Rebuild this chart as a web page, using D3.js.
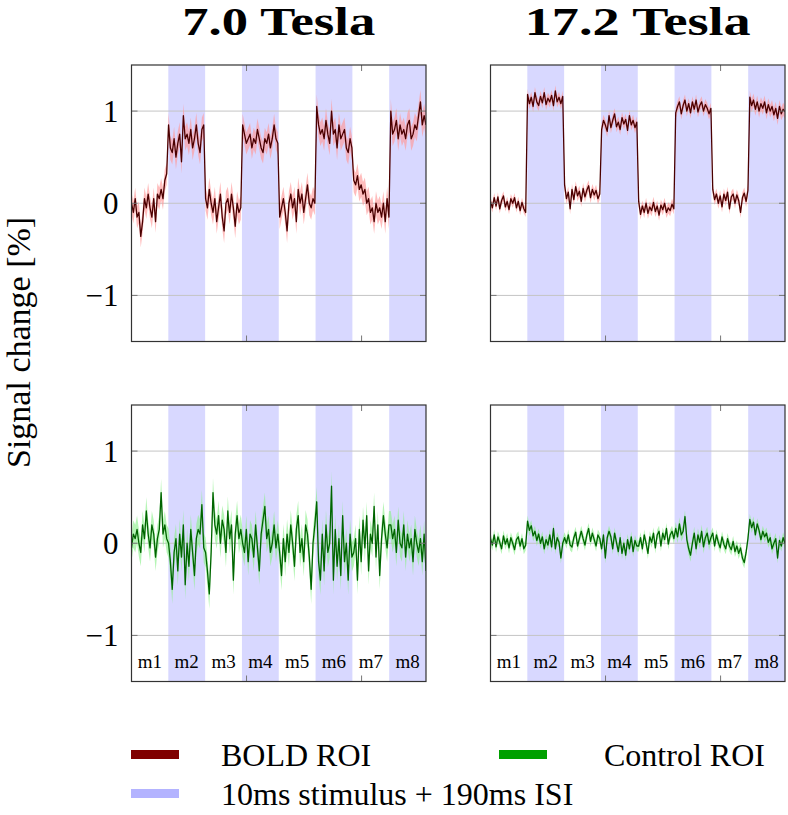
<!DOCTYPE html>
<html>
<head>
<meta charset="utf-8">
<script src="https://cdn.jsdelivr.net/npm/d3@7"></script>
<style>
  html, body { margin: 0; padding: 0; background: #fff; }
</style>
</head>
<body>
<svg id="chart" width="788" height="815" font-family="Liberation Serif"></svg>
<script>
// fMRI block-design time courses: BOLD vs control ROI at 7.0 T and 17.2 T.
// Values, 20 samples per 16 s block.

const FONT = "Liberation Serif";
const TITLES = ["7.0 Tesla", "17.2 Tesla"];
const BLOCK_LABELS = ["m1", "m2", "m3", "m4", "m5", "m6", "m7", "m8"];
const STIM_BLOCKS = [1, 3, 5, 7];          // shaded (stimulus) blocks
const BLOCK_LEN = 16;                      // seconds per block
const TOTAL_TIME = 128;
const X_TICKS = [50, 100];
const Y_TICKS = [-1, 0, 1];
const Y_DOMAIN = [-1.5, 1.5];

// BOLD ROI, 7.0 T
const bold7 = [
  0.00, -0.10, 0.05, -0.15, -0.10, -0.36, -0.20, 0.05, -0.05, 0.10, -0.05, -0.15, 0.05, -0.20, 0.10, 0.05, 0.15, 0.05, 0.25, 0.32,
  0.85, 0.60, 0.55, 0.70, 0.50, 0.65, 0.75, 0.45, 0.95, 0.70, 0.75, 0.65, 0.80, 0.60, 0.70, 0.85, 0.65, 0.55, 0.80, 0.85,
  0.05, -0.05, 0.15, 0.00, -0.10, 0.05, -0.20, -0.05, 0.10, -0.15, -0.30, 0.00, 0.05, -0.10, 0.10, -0.05, -0.25, 0.00, -0.10, -0.05,
  0.85, 0.75, 0.65, 0.70, 0.75, 0.60, 0.70, 0.65, 0.80, 0.70, 0.60, 0.55, 0.70, 0.65, 0.75, 0.60, 0.70, 0.85, 0.70, 0.65,
  -0.15, -0.05, 0.05, -0.10, -0.30, 0.00, 0.10, -0.05, 0.05, -0.20, 0.15, 0.00, 0.10, -0.10, 0.05, 0.20, 0.00, -0.05, 0.05, 0.00,
  1.05, 0.85, 0.75, 0.80, 0.70, 0.90, 0.75, 0.65, 1.00, 0.75, 0.80, 0.60, 0.85, 0.70, 0.75, 0.80, 0.60, 0.55, 0.70, 0.60,
  0.25, 0.20, 0.30, 0.15, 0.20, 0.10, 0.15, 0.00, 0.05, -0.10, -0.05, -0.20, 0.00, -0.10, -0.05, -0.15, 0.00, -0.20, 0.05, -0.15,
  1.00, 0.75, 0.80, 0.90, 0.70, 0.85, 0.75, 0.80, 0.70, 0.85, 0.90, 0.70, 0.75, 0.85, 0.80, 0.95, 1.10, 0.85, 0.95, 0.85
];

// BOLD ROI, 17.2 T
const bold17 = [
  0.02, -0.05, 0.06, -0.03, 0.07, -0.06, 0.03, 0.08, -0.04, 0.02, -0.07, 0.05, 0.00, 0.06, -0.05, 0.02, -0.08, 0.01, -0.06, -0.10,
  1.18, 1.08, 1.15, 1.05, 1.20, 1.10, 1.06, 1.16, 1.09, 1.20, 1.07, 1.14, 1.10, 1.17, 1.06, 1.22, 1.10, 1.15, 1.08, 1.16,
  0.20, 0.05, 0.12, -0.06, 0.15, 0.04, 0.18, 0.08, 0.13, 0.02, 0.16, 0.07, 0.14, 0.19, 0.06, 0.15, 0.09, 0.14, 0.05, 0.10,
  0.80, 0.90, 0.85, 0.78, 0.95, 0.82, 0.90, 0.97, 0.83, 0.88, 0.80, 0.93, 0.86, 0.91, 0.79, 0.95, 0.85, 0.90, 0.82, 0.88,
  0.02, -0.12, -0.03, -0.10, 0.00, -0.11, -0.04, -0.08, 0.01, -0.09, -0.03, -0.13, -0.02, -0.07, 0.00, -0.10, -0.05, -0.08, -0.01, -0.06,
  0.98, 1.05, 1.10, 0.97, 1.06, 1.12, 1.00, 1.08, 0.98, 1.10, 1.02, 1.12, 0.99, 1.06, 1.10, 1.00, 1.07, 1.03, 0.97, 1.03,
  0.15, 0.04, 0.10, 0.00, 0.08, -0.04, 0.10, 0.03, 0.12, -0.06, 0.07, 0.10, 0.00, 0.09, 0.03, -0.10, 0.06, 0.11, 0.02, 0.14,
  1.15, 1.06, 1.12, 1.02, 1.10, 1.00, 1.08, 1.03, 1.10, 0.98, 1.07, 1.00, 1.05, 0.96, 1.03, 0.92, 1.05, 0.97, 1.02, 0.99
];

// Control ROI, 7.0 T
const ctrl7 = [
  -0.05, 0.10, 0.05, 0.15, 0.00, -0.10, 0.20, 0.05, 0.35, 0.10, -0.05, 0.20, 0.10, -0.15, 0.05, 0.15, 0.55, 0.10, 0.20, 0.05,
  0.00, -0.20, -0.50, -0.10, 0.05, -0.30, 0.10, -0.15, 0.20, -0.45, 0.00, -0.25, 0.15, -0.10, -0.35, 0.05, 0.15, 0.10, 0.42, -0.05,
  -0.10, -0.30, -0.55, -0.10, 0.55, 0.20, 0.10, 0.30, 0.00, 0.25, 0.15, -0.10, 0.35, 0.05, 0.20, -0.40, 0.10, 0.30, 0.05, 0.15,
  0.00, -0.10, 0.15, -0.20, 0.10, 0.05, -0.15, 0.20, -0.05, -0.30, 0.10, 0.25, 0.40, 0.05, 0.15, -0.10, 0.00, 0.20, -0.05, 0.10,
  -0.10, -0.35, 0.05, -0.20, 0.10, -0.10, 0.20, 0.00, -0.25, 0.15, 0.30, -0.10, 0.05, -0.20, 0.20, 0.10, -0.15, -0.50, 0.00, 0.20,
  0.45, -0.20, -0.40, 0.10, -0.30, 0.20, -0.10, 0.00, 0.62, -0.40, 0.15, -0.25, 0.05, -0.35, 0.30, -0.20, 0.00, -0.40, 0.10, -0.15,
  -0.10, 0.05, -0.40, 0.15, -0.20, 0.25, -0.05, 0.30, -0.30, 0.10, 0.00, 0.40, -0.15, 0.20, -0.35, 0.05, 0.30, 0.10, -0.05, 0.20,
  0.20, 0.05, 0.15, -0.10, 0.25, 0.00, -0.05, 0.20, -0.15, 0.10, -0.05, 0.05, -0.20, 0.15, 0.00, -0.10, 0.05, -0.20, 0.10, -0.30
];

// Control ROI, 17.2 T
const ctrl17 = [
  0.05, -0.02, 0.09, -0.04, 0.07, 0.01, -0.06, 0.08, -0.01, 0.05, -0.05, 0.06, 0.00, -0.07, 0.04, 0.07, -0.03, 0.05, -0.06, -0.02,
  0.24, 0.14, 0.19, 0.08, 0.13, 0.03, 0.10, 0.00, 0.07, -0.06, 0.04, -0.02, 0.09, -0.04, 0.16, -0.06, 0.06, 0.01, -0.16, 0.00,
  0.06, 0.00, 0.09, -0.02, -0.04, 0.06, 0.12, -0.03, 0.05, 0.13, 0.05, -0.02, 0.09, 0.16, 0.02, 0.11, 0.04, -0.03, 0.09, 0.05,
  -0.06, 0.09, -0.16, 0.06, 0.13, 0.07, -0.06, 0.11, 0.01, -0.09, 0.06, -0.11, 0.00, -0.13, 0.04, -0.06, 0.07, -0.09, 0.03, -0.03,
  -0.03, 0.06, -0.06, 0.09, 0.00, -0.11, 0.07, 0.01, 0.11, -0.05, 0.09, 0.13, -0.03, 0.11, 0.04, 0.16, -0.01, 0.09, 0.13, 0.05,
  0.16, 0.07, 0.21, 0.09, 0.13, 0.29, 0.04, -0.06, -0.13, 0.00, 0.11, -0.06, 0.09, 0.01, 0.13, -0.04, 0.06, 0.11, -0.01, 0.06,
  0.11, -0.03, 0.09, 0.01, -0.05, 0.07, -0.01, -0.06, 0.05, -0.03, -0.07, 0.02, -0.09, -0.03, -0.11, -0.05, -0.16, -0.21, -0.10, 0.05,
  0.26, 0.17, 0.23, 0.09, 0.21, 0.14, 0.04, 0.13, 0.07, 0.11, 0.01, 0.06, -0.06, 0.00, 0.05, -0.16, 0.03, -0.03, 0.06, 0.00
];

// half-width of the shaded error band, one value per block
const bold7Err  = [0.12, 0.13, 0.13, 0.12, 0.13, 0.13, 0.13, 0.13];
const bold17Err = [0.05, 0.06, 0.06, 0.06, 0.06, 0.06, 0.06, 0.07];
const ctrl7Err  = [0.15, 0.16, 0.16, 0.15, 0.16, 0.16, 0.15, 0.15];
const ctrl17Err = [0.06, 0.06, 0.06, 0.06, 0.06, 0.07, 0.06, 0.06];

const COLORS = {
  stim: "#d8d8ff",
  stimLegend: "#b3b3ff",
  bold: "#4a0000",
  boldBand: "#ff9a9a",
  boldLegend: "#800000",
  ctrl: "#006400",
  ctrlBand: "#8fef8f",
  ctrlLegend: "#00a000",
  grid: "#c4c4c4",
  tick: "#777",
  frame: "#333"
};

const panels = [
  { row: 0, col: 0, data: bold7,  err: bold7Err,  line: COLORS.bold, band: COLORS.boldBand },
  { row: 0, col: 1, data: bold17, err: bold17Err, line: COLORS.bold, band: COLORS.boldBand },
  { row: 1, col: 0, data: ctrl7,  err: ctrl7Err,  line: COLORS.ctrl, band: COLORS.ctrlBand },
  { row: 1, col: 1, data: ctrl17, err: ctrl17Err, line: COLORS.ctrl, band: COLORS.ctrlBand }
];

const COL_X = [131.5, 490.5];
const ROW_Y = [65, 405];
const PW = 294.5, PH = 276.5;

const svg = d3.select("#chart");

const x = d3.scaleLinear().domain([0, TOTAL_TIME]).range([0, PW]);
const y = d3.scaleLinear().domain(Y_DOMAIN).range([PH, 0]);

panels.forEach((p, k) => {
  const g = svg.append("g").attr("transform", `translate(${COL_X[p.col]},${ROW_Y[p.row]})`);
  const clipId = "clip" + k;
  g.append("clipPath").attr("id", clipId)
    .append("rect").attr("width", PW).attr("height", PH);

  // stimulus blocks
  g.append("g").selectAll("rect")
    .data(STIM_BLOCKS)
    .join("rect")
      .attr("x", b => x(b * BLOCK_LEN))
      .attr("y", 0)
      .attr("width", x(BLOCK_LEN) - x(0))
      .attr("height", PH)
      .attr("fill", COLORS.stim);

  // horizontal grid
  g.append("g").selectAll("line")
    .data(Y_TICKS)
    .join("line")
      .attr("x1", 0).attr("x2", PW)
      .attr("y1", d => y(d)).attr("y2", d => y(d))
      .attr("stroke", COLORS.grid).attr("stroke-width", 1);

  const dt = TOTAL_TIME / (p.data.length - 1);
  const perBlock = p.data.length / BLOCK_LABELS.length;
  const pts = p.data.map((v, i) => ({ t: i * dt, v, e: p.err[Math.floor(i / perBlock)] }));

  const plot = g.append("g").attr("clip-path", `url(#${clipId})`);
  plot.append("path")
    .datum(pts)
    .attr("d", d3.area().x(d => x(d.t)).y0(d => y(d.v - d.e)).y1(d => y(d.v + d.e)))
    .attr("fill", p.band)
    .attr("fill-opacity", 0.65);
  plot.append("path")
    .datum(pts)
    .attr("d", d3.line().x(d => x(d.t)).y(d => y(d.v)))
    .attr("fill", "none")
    .attr("stroke", p.line)
    .attr("stroke-width", 1.3)
    .attr("stroke-linejoin", "round");

  // inward ticks: bottom/top on time, left/right on signal
  const tk = 6;
  const ticks = g.append("g").attr("stroke", COLORS.tick).attr("stroke-width", 1);
  X_TICKS.forEach(t => {
    ticks.append("line").attr("x1", x(t)).attr("x2", x(t)).attr("y1", 0).attr("y2", tk);
    ticks.append("line").attr("x1", x(t)).attr("x2", x(t)).attr("y1", PH).attr("y2", PH - tk);
  });
  Y_TICKS.forEach(v => {
    ticks.append("line").attr("x1", 0).attr("x2", tk).attr("y1", y(v)).attr("y2", y(v));
    ticks.append("line").attr("x1", PW).attr("x2", PW - tk).attr("y1", y(v)).attr("y2", y(v));
  });

  // y tick labels on the left column only
  if (p.col === 0) {
    g.append("g").selectAll("text")
      .data(Y_TICKS)
      .join("text")
        .attr("x", -13)
        .attr("y", d => y(d))
        .attr("dy", "0.34em")
        .attr("text-anchor", "end")
        .attr("font-family", FONT)
        .attr("font-size", 31)
        .text(d => d < 0 ? "\u2212" + Math.abs(d) : d);
  }

  // block labels along the bottom row
  if (p.row === 1) {
    g.append("g").selectAll("text")
      .data(BLOCK_LABELS)
      .join("text")
        .attr("x", (d, i) => x((i + 0.5) * BLOCK_LEN))
        .attr("y", PH - 13.5)
        .attr("text-anchor", "middle")
        .attr("font-family", FONT)
        .attr("font-size", 19)
        .text(d => d);
  }

  g.append("rect")
    .attr("width", PW).attr("height", PH)
    .attr("fill", "none")
    .attr("stroke", COLORS.frame)
    .attr("stroke-width", 1.2);
});

// column titles
svg.selectAll("text.title")
  .data(TITLES)
  .join("text")
    .attr("class", "title")
    .attr("x", (d, i) => COL_X[i] + PW / 2)
    .attr("y", 35)
    .attr("text-anchor", "middle")
    .attr("textLength", (d, i) => i === 0 ? 193 : 226)
    .attr("lengthAdjust", "spacingAndGlyphs")
    .attr("font-family", FONT)
    .attr("font-size", 39)
    .attr("font-weight", "bold")
    .text(d => d);

// y axis label
svg.append("text")
  .attr("transform", "translate(30,468) rotate(-90)")
  .attr("text-anchor", "start")
  .attr("font-family", FONT)
  .attr("font-size", 34)
  .text("Signal change [%]");

// legend
const legendItems = [
  { label: "BOLD ROI", color: COLORS.boldLegend, sx: 131, tx: 221, y: 766 },
  { label: "Control ROI", color: COLORS.ctrlLegend, sx: 499, tx: 604, y: 766 },
  { label: "10ms stimulus + 190ms ISI", color: COLORS.stimLegend, sx: 131, tx: 221, y: 805 }
];
const lg = svg.append("g").selectAll("g").data(legendItems).join("g");
lg.append("rect")
  .attr("x", d => d.sx).attr("y", d => d.y - 16)
  .attr("width", 48).attr("height", 9)
  .attr("fill", d => d.color);
lg.append("text")
  .attr("x", d => d.tx).attr("y", d => d.y)
  .attr("font-family", FONT)
  .attr("font-size", 32)
  .text(d => d.label);
</script>
</body>
</html>
